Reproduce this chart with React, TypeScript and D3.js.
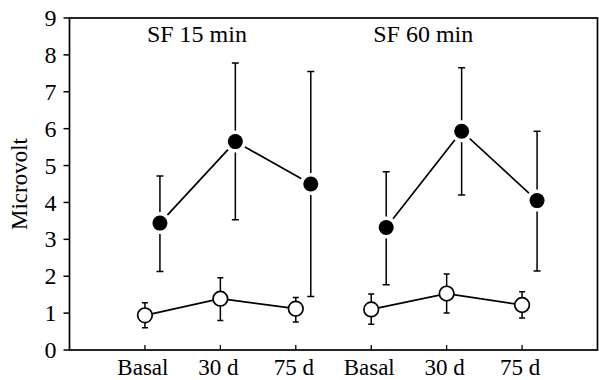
import React, { useRef, useEffect } from 'react';
import * as d3 from 'd3';

const groups = ['SF 15 min', 'SF 60 min'];
const categories = ['Basal', '30 d', '75 d'];
const yTicks = [0, 1, 2, 3, 4, 5, 6, 7, 8, 9];

// SF group (filled circles), per group: Basal, 30 d, 75 d
const filledMean = [[3.44, 5.65, 4.5], [3.32, 5.93, 4.05]];
const filledLow = [[2.13, 3.53, 1.45], [1.77, 4.2, 2.14]];
const filledHigh = [[4.72, 7.78, 7.55], [4.83, 7.65, 5.93]];

// control group (open circles)
const openMean = [[0.94, 1.39, 1.12], [1.1, 1.53, 1.22]];
const openLow = [[0.6, 0.8, 0.76], [0.7, 1.0, 0.87]];
const openHigh = [[1.28, 1.96, 1.42], [1.52, 2.06, 1.58]];

interface Pt {
  key: string;
  mean: number;
  low: number;
  high: number;
}

const W = 599;
const H = 380;

const App: React.FC = () => {
  const svgRef = useRef<SVGSVGElement>(null);

  useEffect(() => {
    if (!svgRef.current) return;
    const svg = d3.select(svgRef.current);
    svg.selectAll('*').remove();

    const left = 69.5;
    const right = 597.5;
    const top = 18;
    const bottom = 350;
    const font = '"Liberation Serif", "Times New Roman", serif';

    const keys = groups.flatMap((g) => categories.map((c) => `${g}|${c}`));
    const x = d3.scalePoint<string>().domain(keys).range([left, right]).padding(1);
    const y = d3.scaleLinear().domain([0, 9]).range([bottom, top]);
    const shift = 15; // filled series drawn a little to the right

    const build = (mean: number[][], low: number[][], high: number[][]): Pt[][] =>
      groups.map((g, gi) =>
        categories.map((c, ci) => ({
          key: `${g}|${c}`,
          mean: mean[gi][ci],
          low: low[gi][ci],
          high: high[gi][ci],
        }))
      );

    const filled = build(filledMean, filledLow, filledHigh);
    const open = build(openMean, openLow, openHigh);

    // frame
    svg
      .append('rect')
      .attr('x', left)
      .attr('y', top)
      .attr('width', right - left)
      .attr('height', bottom - top)
      .attr('fill', 'none')
      .attr('stroke', '#000')
      .attr('stroke-width', 1.7);

    // y axis ticks
    const yg = svg.append('g');
    yg.selectAll('line')
      .data(yTicks)
      .enter()
      .append('line')
      .attr('x1', left - 6)
      .attr('x2', left)
      .attr('y1', (d) => y(d))
      .attr('y2', (d) => y(d))
      .attr('stroke', '#000')
      .attr('stroke-width', 1.5);
    yg.selectAll('text')
      .data(yTicks)
      .enter()
      .append('text')
      .attr('x', left - 13)
      .attr('y', (d) => y(d))
      .attr('dy', '0.34em')
      .attr('text-anchor', 'end')
      .attr('font-family', font)
      .attr('font-size', 24)
      .text((d) => d);

    svg
      .append('text')
      .attr('transform', `translate(27, ${(top + bottom) / 2}) rotate(-90)`)
      .attr('text-anchor', 'middle')
      .attr('font-family', font)
      .attr('font-size', 23)
      .text('Microvolt');

    // x axis ticks (inward)
    const xg = svg.append('g');
    xg.selectAll('line')
      .data(keys)
      .enter()
      .append('line')
      .attr('x1', (d) => x(d)!)
      .attr('x2', (d) => x(d)!)
      .attr('y1', bottom)
      .attr('y2', bottom - 5)
      .attr('stroke', '#000')
      .attr('stroke-width', 1.3);
    xg.selectAll('text')
      .data(keys)
      .enter()
      .append('text')
      .attr('x', (d) => x(d)! - 2)
      .attr('y', 375)
      .attr('text-anchor', 'middle')
      .attr('font-family', font)
      .attr('font-size', 23)
      .text((d) => d.split('|')[1]);

    // group titles
    svg
      .selectAll('.title')
      .data(groups)
      .enter()
      .append('text')
      .attr('class', 'title')
      .attr('x', (g) => x(`${g}|${categories[0]}`)! + 2)
      .attr('y', 42)
      .attr('font-family', font)
      .attr('font-size', 24)
      .text((g) => g);

    const line = (dx: number) =>
      d3
        .line<Pt>()
        .x((d) => x(d.key)! + dx)
        .y((d) => y(d.mean));

    const errorBars = (data: Pt[][], dx: number, cap: number) => {
      const g = svg.append('g');
      const pts = data.flat();
      g.selectAll('.eb')
        .data(pts)
        .enter()
        .append('path')
        .attr('d', (d) => {
          const cx = x(d.key)! + dx;
          return (
            `M${cx},${y(d.low)}V${y(d.high)}` +
            `M${cx - cap},${y(d.high)}H${cx + cap}` +
            `M${cx - cap},${y(d.low)}H${cx + cap}`
          );
        })
        .attr('fill', 'none')
        .attr('stroke', '#000')
        .attr('stroke-width', 1.5);
    };

    // open series
    errorBars(open, 0, 3);
    open.forEach((grp) => {
      svg
        .append('path')
        .datum(grp)
        .attr('d', line(0))
        .attr('fill', 'none')
        .attr('stroke', '#000')
        .attr('stroke-width', 1.7);
    });
    svg
      .selectAll('.open')
      .data(open.flat())
      .enter()
      .append('circle')
      .attr('cx', (d) => x(d.key)!)
      .attr('cy', (d) => y(d.mean))
      .attr('r', 7.3)
      .attr('fill', '#fff')
      .attr('stroke', '#000')
      .attr('stroke-width', 1.7);

    // filled series
    errorBars(filled, shift, 3.5);
    filled.forEach((grp) => {
      svg
        .append('path')
        .datum(grp)
        .attr('d', line(shift))
        .attr('fill', 'none')
        .attr('stroke', '#000')
        .attr('stroke-width', 1.7);
    });
    const fp = filled.flat();
    svg
      .selectAll('.halo')
      .data(fp)
      .enter()
      .append('circle')
      .attr('cx', (d) => x(d.key)! + shift)
      .attr('cy', (d) => y(d.mean))
      .attr('r', 11)
      .attr('fill', '#fff');
    svg
      .selectAll('.dot')
      .data(fp)
      .enter()
      .append('circle')
      .attr('cx', (d) => x(d.key)! + shift)
      .attr('cy', (d) => y(d.mean))
      .attr('r', 7.5)
      .attr('fill', '#000');
  }, []);

  return (
    <div style={{ position: 'absolute', left: 0, top: 0 }}>
      <svg ref={svgRef} width={W} height={H} style={{ display: 'block', background: '#fff' }} />
    </div>
  );
};

export default App;
